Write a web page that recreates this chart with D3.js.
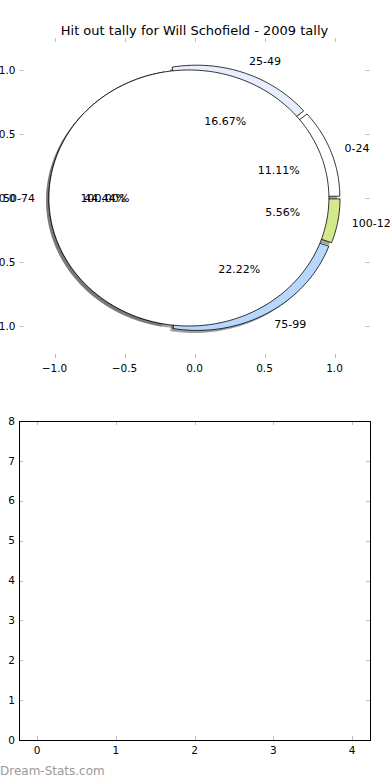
<!DOCTYPE html>
<html>
<head>
<meta charset="utf-8">
<script src="https://cdn.jsdelivr.net/npm/d3@7"></script>
<style>
  body { margin: 0; background: #fff; }
  svg { display: block; font-family: "DejaVu Sans", sans-serif; }
</style>
</head>
<body>
<div id="chart"></div>
<script>
// chart values
var chartTitle = "Hit out tally for Will Schofield - 2009 tally";
var categories = ["0-24", "25-49", "50-74", "75-99", "100-124"];
var tallies = [2, 3, 8, 4, 1];
// second pie drawn over the first one (single wedge)
var overlayTallies = [1];
var pieTicks = [-1.0, -0.5, 0.0, 0.5, 1.0];
var barXTicks = [0, 1, 2, 3, 4];
var barYTicks = [0, 1, 2, 3, 4, 5, 6, 7, 8];
var watermark = "Dream-Stats.com";

var svgWidth = 390;
var svgHeight = 780;
var explode = 0.04;

var svg = d3.select("#chart")
  .append("svg")
  .attr("width", svgWidth)
  .attr("height", svgHeight);

var color = d3.scaleOrdinal()
  .domain(categories)
  .range(["#ffffff", "#e8eefe", "#ffffff", "#b7d7fd", "#d2ea8c"]);

// pie axes (no spines, aspect not equal)
var pieX = d3.scaleLinear().domain([-1.25, 1.25]).range([19.5, 369.5]);
var pieY = d3.scaleLinear().domain([-1.25, 1.25]).range([358, 38]);

// title
svg.append("text")
  .attr("x", 194.5)
  .attr("y", 35)
  .attr("text-anchor", "middle")
  .attr("font-size", "13px")
  .attr("fill", "#000")
  .text(chartTitle);

// builds a wedge outline in data units, mapped through the scales
function wedgePath(cx, cy, r, t1, t2, full) {
  var pts = [];
  var steps = Math.max(8, Math.ceil((t2 - t1) / (Math.PI / 180)));
  if (!full) pts.push([cx, cy]);
  for (var i = 0; i <= steps; i++) {
    var t = t1 + (t2 - t1) * i / steps;
    pts.push([cx + r * Math.cos(t), cy + r * Math.sin(t)]);
  }
  return d3.line()
    .x(d => pieX(d[0]))
    .y(d => pieY(d[1]))(pts) + "Z";
}

// d3.pie angles read as matplotlib angles (counter clockwise from east)
var pie = d3.pie().sort(null).startAngle(0).endAngle(2 * Math.PI);
var arcs = pie(tallies);
var overlayArcs = pie(overlayTallies);
var total = d3.sum(tallies);

function slicePos(a) {
  var mid = (a.startAngle + a.endAngle) / 2;
  return {
    mid: mid,
    cx: explode * Math.cos(mid),
    cy: explode * Math.sin(mid),
    full: (a.endAngle - a.startAngle) >= 2 * Math.PI - 1e-9
  };
}

function shadowColor(c) {
  var rgb = d3.rgb(c);
  return d3.rgb(rgb.r * 0.3, rgb.g * 0.3, rgb.b * 0.3).toString();
}

var allArcs = arcs.map((a, i) => ({ a: a, fill: color(categories[i]) }))
  .concat(overlayArcs.map(a => ({ a: a, fill: "#ffffff" })));

var pieGroup = svg.append("g");

// shadows first (lower zorder), then wedges
pieGroup.selectAll("path.shadow")
  .data(allArcs)
  .enter()
  .append("path")
  .attr("class", "shadow")
  .attr("d", function(d) {
    var p = slicePos(d.a);
    return wedgePath(p.cx - 0.02, p.cy - 0.02, 1, d.a.startAngle, d.a.endAngle, p.full);
  })
  .attr("fill", d => shadowColor(d.fill))
  .attr("opacity", 0.5);

pieGroup.selectAll("path.wedge")
  .data(allArcs)
  .enter()
  .append("path")
  .attr("class", "wedge")
  .attr("d", function(d) {
    var p = slicePos(d.a);
    return wedgePath(p.cx, p.cy, 1, d.a.startAngle, d.a.endAngle, p.full);
  })
  .attr("fill", d => d.fill)
  .attr("stroke", "#000")
  .attr("stroke-width", 0.8)
  .attr("stroke-linejoin", "round");

// slice labels
arcs.forEach(function(a, i) {
  var p = slicePos(a);
  var lx = p.cx + 1.1 * Math.cos(p.mid);
  var ly = p.cy + 1.1 * Math.sin(p.mid);
  svg.append("text")
    .attr("x", pieX(lx))
    .attr("y", pieY(ly))
    .attr("dy", "0.35em")
    .attr("text-anchor", lx > 0 ? "start" : "end")
    .attr("font-size", "11px")
    .text(categories[i]);

  var px = p.cx + 0.6 * Math.cos(p.mid);
  var py = p.cy + 0.6 * Math.sin(p.mid);
  svg.append("text")
    .attr("x", pieX(px))
    .attr("y", pieY(py))
    .attr("dy", "0.35em")
    .attr("text-anchor", "middle")
    .attr("font-size", "11px")
    .text((100 * tallies[i] / total).toFixed(2) + "%");
});

overlayArcs.forEach(function(a) {
  var p = slicePos(a);
  var px = p.cx + 0.6 * Math.cos(p.mid);
  var py = p.cy + 0.6 * Math.sin(p.mid);
  svg.append("text")
    .attr("x", pieX(px))
    .attr("y", pieY(py))
    .attr("dy", "0.35em")
    .attr("text-anchor", "middle")
    .attr("font-size", "11px")
    .text((100 * a.value / d3.sum(overlayTallies)).toFixed(2) + "%");
});

// tick marks on all four sides, pointing in
function drawTicks(g, xs, ys, xTicks, yTicks, fmt, showFrame) {
  var x0 = xs.range()[0], x1 = xs.range()[1];
  var y0 = ys.range()[1], y1 = ys.range()[0];
  var tickColor = "#bdbdbd";
  var len = 4;

  xTicks.forEach(function(t) {
    var x = Math.round(xs(t)) + 0.5;
    g.append("line").attr("x1", x).attr("x2", x).attr("y1", y1).attr("y2", y1 - len)
      .attr("stroke", tickColor);
    g.append("line").attr("x1", x).attr("x2", x).attr("y1", y0).attr("y2", y0 + len)
      .attr("stroke", tickColor);
    g.append("text")
      .attr("x", xs(t))
      .attr("y", y1 + 14)
      .attr("text-anchor", "middle")
      .attr("font-size", "10.5px")
      .text(fmt(t));
  });

  yTicks.forEach(function(t) {
    var y = Math.round(ys(t)) + 0.5;
    g.append("line").attr("x1", x0).attr("x2", x0 + len).attr("y1", y).attr("y2", y)
      .attr("stroke", tickColor);
    g.append("line").attr("x1", x1).attr("x2", x1 - len).attr("y1", y).attr("y2", y)
      .attr("stroke", tickColor);
    g.append("text")
      .attr("x", x0 - 4)
      .attr("y", ys(t))
      .attr("dy", "0.35em")
      .attr("text-anchor", "end")
      .attr("font-size", "10.5px")
      .text(fmt(t));
  });

  if (showFrame) {
    g.append("rect")
      .attr("x", Math.round(x0) + 0.5).attr("y", Math.round(y0) + 0.5)
      .attr("width", Math.round(x1 - x0)).attr("height", Math.round(y1 - y0))
      .attr("fill", "none")
      .attr("stroke", "#000")
      .attr("stroke-width", 1);
  }
}

var pieFmt = d => d3.format(".1f")(d).replace("-", "\u2212");
drawTicks(svg.append("g"), pieX, pieY, pieTicks, pieTicks, pieFmt, false);

// second (empty) axes
var barX = d3.scaleLinear().domain([-0.2286, 4.2286]).range([19, 370]);
var barY = d3.scaleLinear().domain([0, 8]).range([740, 421]);
drawTicks(svg.append("g"), barX, barY, barXTicks, barYTicks, d => d3.format("d")(d), true);

// watermark
svg.append("text")
  .attr("x", 0)
  .attr("y", 775)
  .attr("font-size", "12px")
  .attr("fill", "#9a9a9a")
  .text(watermark);
</script>
</body>
</html>
